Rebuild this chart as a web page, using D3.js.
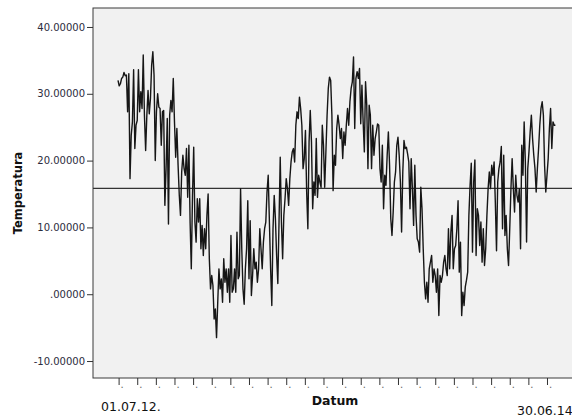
<!DOCTYPE html>
<html>
<head>
<meta charset="utf-8">
<script src="https://cdn.jsdelivr.net/npm/d3@7"></script>
<style>
body { margin: 0; background: #fff; }
text { font-family: "DejaVu Sans", Verdana, sans-serif; }
</style>
</head>
<body>
<div id="chart"></div>
<script>
var width = 572;
var height = 416;

// series: one reading every 2 days starting 01.07.2012
var startDate = "2012-07-01";
var endDate = "2014-06-30";
var stepDays = 2;
var meanTemp = 15.85;
var yTicks = [-10, 0, 10, 20, 30, 40];
var firstLabel = "01.07.12.";
var lastLabel = "30.06.14";
var xTitle = "Datum";
var yTitle = "Temperatura";

var temps = [
    32.0, 31.2, 31.5, 32.3, 32.5, 33.2, 32.7, 32.8, 27.3, 33.0, 17.3,
    23.8, 25.8, 33.6, 21.8, 25.3, 26.0, 33.6, 27.3, 30.3, 27.8,
    35.8, 26.8, 21.5, 26.8, 30.5, 27.0, 29.3, 34.3, 36.3, 32.8,
    20.0, 27.3, 30.0, 28.0, 27.8, 22.3, 27.3, 27.5, 13.3, 18.8,
    26.3, 10.5, 26.8, 29.0, 27.3, 32.3, 25.8, 20.5, 24.8, 19.3,
    14.8, 11.8, 18.3, 20.8, 18.8, 17.8, 21.8, 14.5, 22.3, 10.8,
    3.8, 14.8, 22.0, 10.8, 7.8, 14.3, 10.8,

    14.3, 6.8, 10.3, 5.8, 9.8, 6.8, 11.8, 15.0, 5.3, 0.8,
    2.8, 1.3, -3.7, -2.2, -6.5, -1.2, 3.8, 0.8, 2.3, -1.2,
    5.3, 1.8, 3.8, 0.3, 3.8, -1.2, 8.8, 0.3, 0.8, 3.8,
    0.3, 9.3, 2.3, 2.8, 15.8, 6.8, 0.8, -1.5, 3.8, 6.8,
    14.0, 2.3, 11.0, -0.2, 2.8, 6.8, 3.8, 4.8, 1.8, 3.8,
    9.8, 6.8, 3.8, 7.8, 9.8, 10.8, 15.3, 17.8, 10.8, 3.8,
    -1.7, 9.8, 14.8, 11.3, 5.8, 1.6, 10.8, 20.5, 10.8, 5.3,
    11.8, 14.3, 17.3,

    15.8, 13.3, 17.3, 19.8, 21.3, 21.8, 19.8, 25.3, 27.3, 26.3,
    29.5, 27.8, 25.3, 18.8, 20.3, 24.5, 15.3, 9.8, 22.8, 27.5,
    22.8, 12.8, 16.8, 14.8, 23.3, 14.5, 17.8, 16.8, 16.0, 25.3,
    22.3, 16.0, 21.3, 26.8, 30.8, 32.5, 32.0, 26.8, 15.5, 20.8,
    19.3, 24.8, 26.8, 25.3, 23.3, 24.8, 20.3, 24.3, 22.3, 25.3,
    27.8, 25.3, 28.8, 30.8, 31.8, 35.5, 24.8, 32.3, 33.3, 32.3,
    33.8, 25.5, 31.3, 25.8, 21.3, 31.8, 28.3, 18.8, 28.3, 26.8,
    18.8, 25.3, 20.8,

    23.3, 24.3, 25.5, 25.3, 18.8, 16.8, 22.3, 12.8, 17.8, 16.3,
    20.8, 24.3, 19.3, 11.3, 8.8, 12.3, 16.8, 18.3, 22.3, 23.5,
    20.8, 16.8, 9.3, 18.3, 23.0, 21.8, 22.0, 21.0, 19.8, 12.8,
    20.3, 15.8, 10.3, 19.3, 11.8, 8.3, 7.8, 6.3, 16.0, 12.8,
    6.8, 1.8, -0.7, 1.8, -1.2, 3.8, 4.8, 5.8, 1.8, 3.8,
    2.8, 0.3, 3.8, -3.2, 2.8, 1.8, 2.8, 4.8, 5.8, 3.8,
    2.8, 9.8, 3.8, 9.3, 11.8, 3.8, 6.8, 7.3, 9.8, 14.0,
    3.3, 7.8, -3.2,

    0.3, -1.7, 1.1, 2.1, 3.3, 11.8, 16.3, 19.6, 6.3, 16.8,
    20.1, 5.8, 12.8, 11.8, 7.3, 10.8, 4.8, 9.8, 4.3, 6.8,
    11.8, 15.8, 18.3, 15.8, 19.3, 17.8, 19.8, 13.8, 6.5, 16.8,
    18.8, 19.8, 22.1, 9.8, 20.8, 8.8, 11.8, 6.8, 4.3, 9.8,
    15.8, 20.3, 15.8, 12.3, 17.8, 14.8, 13.8, 15.8, 6.8, 22.3,
    17.8, 25.8, 19.8, 7.8, 18.8, 21.3, 24.3, 26.8, 23.3, 20.8,
    18.8, 15.3, 18.8, 21.8, 25.3, 27.8, 28.8, 26.8, 19.3, 15.3,
    17.8, 20.3, 24.8, 27.8, 21.8, 25.8, 25.3, 25.3
];

var parseDate = d3.timeParse("%Y-%m-%d");
var start = parseDate(startDate);
var end = parseDate(endDate);

var data = temps.map(function(t, i) {
    return { date: d3.timeDay.offset(start, i * stepDays), temp: t };
});

// plot frame
var plotLeft = 93, plotTop = 8, plotBottom = 378;

var xScale = d3.scaleTime().domain([start, end]).range([118, 556]);
var yScale = d3.scaleLinear().domain([-12.54, 42.84]).range([plotBottom, plotTop]);

var tickDates = d3.range(24).map(function(k) {
    return d3.timeDay.offset(start, 1 + 31 * k);
});

var svg = d3.select("#chart")
    .append("svg")
    .attr("width", width)
    .attr("height", height);

svg.append("rect")
    .attr("x", plotLeft)
    .attr("y", plotTop)
    .attr("width", width - plotLeft + 10)
    .attr("height", plotBottom - plotTop)
    .attr("fill", "#f1f1f1")
    .attr("stroke", "#3a3a3a")
    .attr("stroke-width", 1);

// mean reference line
svg.append("line")
    .attr("x1", plotLeft)
    .attr("x2", width)
    .attr("y1", yScale(meanTemp))
    .attr("y2", yScale(meanTemp))
    .attr("stroke", "#333")
    .attr("stroke-width", 1.2);

var line = d3.line()
    .x(function(d) { return xScale(d.date); })
    .y(function(d) { return yScale(d.temp); });

svg.append("path")
    .datum(data)
    .attr("d", line)
    .attr("fill", "none")
    .attr("stroke", "#161616")
    .attr("stroke-width", 1.4)
    .attr("stroke-linejoin", "round");

// y axis
var yAxis = d3.axisLeft(yScale)
    .tickValues(yTicks)
    .tickSize(6)
    .tickPadding(2)
    .tickFormat(function(v) { return v === 0 ? ".00000" : v.toFixed(5); });

var gy = svg.append("g")
    .attr("transform", "translate(" + plotLeft + ",0)")
    .call(yAxis);
gy.select(".domain").remove();
gy.selectAll("line").attr("stroke", "#333");
gy.selectAll("text")
    .style("font-size", "10px")
    .style("font-family", "DejaVu Sans, Verdana, sans-serif")
    .attr("fill", "#2c2c3c");

// x axis: small ticks, each with a tiny dot
var xAxis = d3.axisBottom(xScale)
    .tickValues(tickDates)
    .tickSize(7)
    .tickFormat(function() { return "."; });

var gx = svg.append("g")
    .attr("transform", "translate(0," + plotBottom + ")")
    .call(xAxis);
gx.select(".domain").remove();
gx.selectAll("line").attr("stroke", "#333");
gx.selectAll("text")
    .attr("y", 3)
    .attr("dx", 3)
    .style("font-size", "10px")
    .style("font-family", "DejaVu Sans, Verdana, sans-serif")
    .attr("fill", "#666");

svg.append("text")
    .attr("x", 101)
    .attr("y", 411)
    .style("font-size", "12.5px")
    .attr("fill", "#111")
    .text(firstLabel);

svg.append("text")
    .attr("x", 517)
    .attr("y", 415)
    .style("font-size", "12.5px")
    .attr("fill", "#111")
    .text(lastLabel);

svg.append("text")
    .attr("x", 335)
    .attr("y", 405)
    .style("text-anchor", "middle")
    .style("font-size", "12.5px")
    .style("font-weight", "bold")
    .attr("fill", "#111")
    .text(xTitle);

svg.append("text")
    .attr("transform", "translate(22,193) rotate(-90)")
    .style("text-anchor", "middle")
    .style("font-size", "11.5px")
    .style("font-weight", "bold")
    .attr("fill", "#111")
    .text(yTitle);
</script>
</body>
</html>
